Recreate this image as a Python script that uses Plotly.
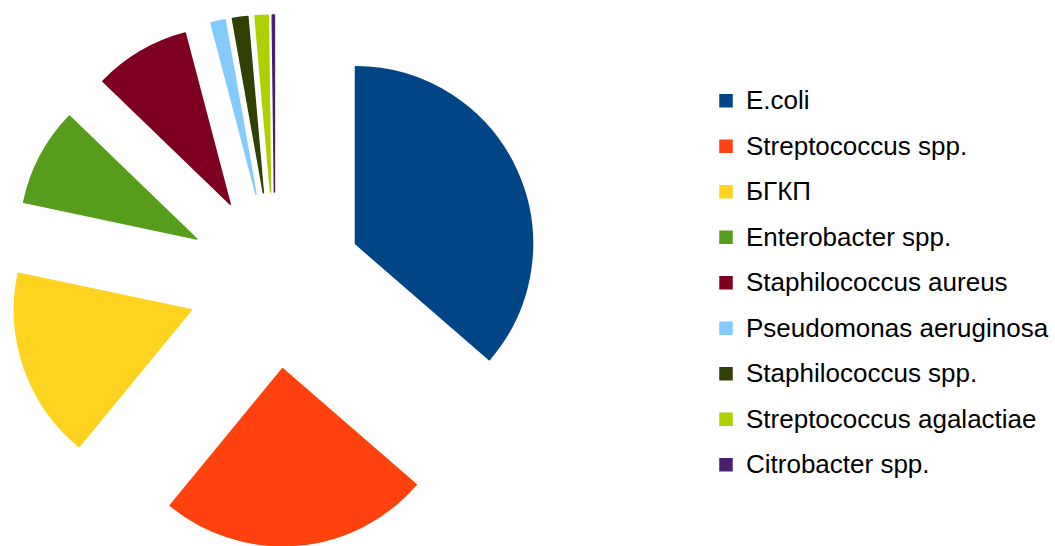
import plotly.graph_objects as go

categories = ["E.coli", "Streptococcus spp.", "БГКП", "Enterobacter spp.",
              "Staphilococcus aureus", "Pseudomonas aeruginosa",
              "Staphilococcus spp.", "Streptococcus agalactiae", "Citrobacter spp."]
values = [36.4, 24.6, 17.4, 8.9, 8.7, 1.3, 1.4, 1.2, 0.2]
colors = ["#004586", "#ff420e", "#ffd320", "#579d1c", "#7e0021",
          "#83caff", "#314004", "#aecf00", "#4b1f6f"]

legend_labels = ['<span style="font-size:26px;baseline-shift:4px">%s</span>' % c
                 for c in categories]

fig = go.Figure(go.Pie(
    labels=legend_labels,
    values=values,
    sort=False,
    direction="clockwise",
    rotation=0,
    pull=[0.5] * len(values),
    marker=dict(colors=colors, line=dict(width=1.5, color=colors)),
    textinfo="none",
    hoverinfo="label+percent",
    domain=dict(x=[0, 0.5213], y=[0, 0.9725]),
))

fig.update_layout(
    width=1055, height=546,
    margin=dict(l=0, r=0, t=0, b=0),
    paper_bgcolor="white", plot_bgcolor="white",
    font=dict(family="Liberation Sans, Arial, sans-serif", color="black"),
    legend=dict(
        x=706 / 1055, xanchor="left",
        y=1 - 73 / 546, yanchor="top",
        font=dict(size=32.69, family="Liberation Sans, Arial, sans-serif", color="black"),
        bgcolor="rgba(0,0,0,0)", borderwidth=0,
    ),
    showlegend=True,
)

fig.write_html("out.html")
